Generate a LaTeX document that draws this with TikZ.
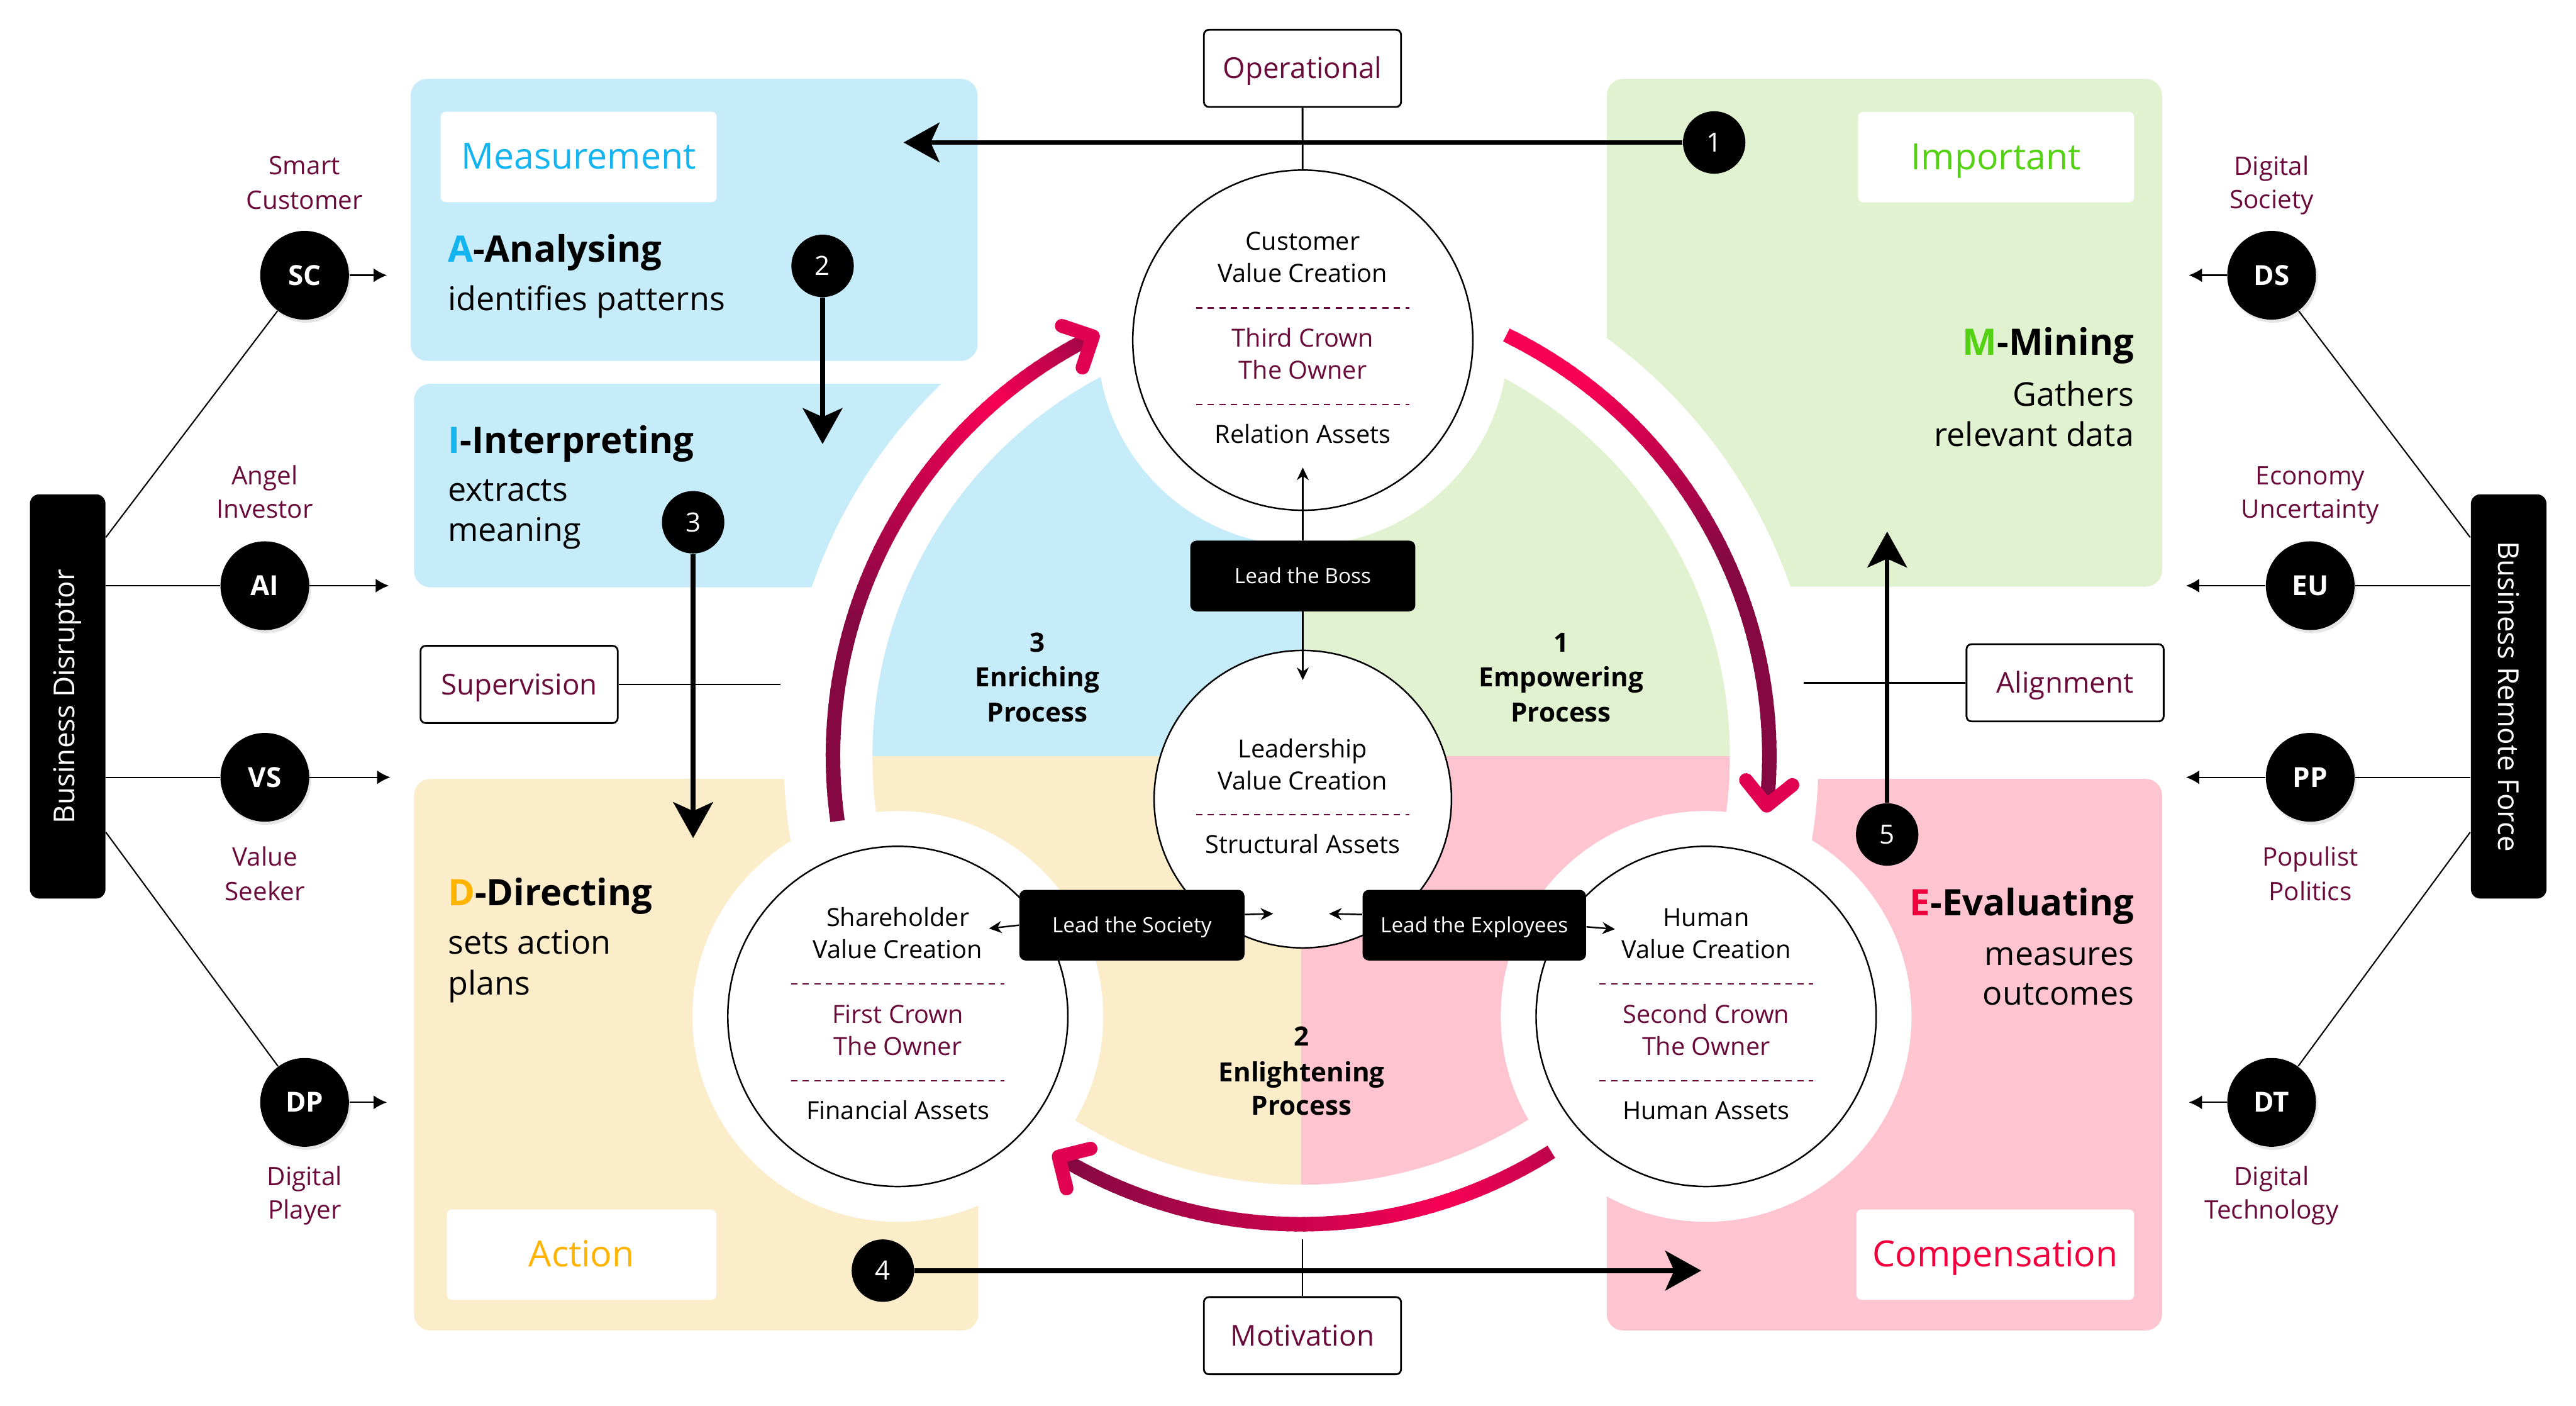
\documentclass[tikz,border=0pt]{standalone}
\usepackage{fontspec}
\setmainfont{Open Sans}
\usetikzlibrary{arrows.meta,calc,shadows}

\definecolor{skyfill}{HTML}{C6ECFA}
\definecolor{leaffill}{HTML}{E0F2CF}
\definecolor{sandfill}{HTML}{FCEDCA}
\definecolor{rosefill}{HTML}{FEC5D0}
\definecolor{skytext}{HTML}{14B4F0}
\definecolor{leaftext}{HTML}{55D114}
\definecolor{sandtext}{HTML}{FFB400}
\definecolor{rosetext}{HTML}{F0003C}
\definecolor{wine}{HTML}{6A0A3A}
\definecolor{ringdark}{HTML}{860843}
\definecolor{ringbright}{HTML}{F80054}

\newlength\pxu
\setlength\pxu{0.2612mm}

\tikzset{
  panel/.style={rounded corners=2.6mm},
  tagbox/.style={fill=white, rounded corners=0.8mm, inner sep=0pt, text height=11.9pt, text depth=0.8pt,
    minimum width=168*\pxu, minimum height=55*\pxu, font=\fontsize{16.3}{19}\selectfont},
  headtext/.style={inner sep=0pt, font=\fontsize{16.5}{19}\selectfont\bfseries},
  bodytext/.style={inner sep=0pt, font=\fontsize{14.8}{17}\selectfont},
  valuecircle/.style={circle, draw, fill=white, line width=0.7pt, minimum size=207*\pxu, inner sep=0pt},
  cvtext/.style={anchor=base, inner sep=0pt, font=\fontsize{11.3}{13.5}\selectfont},
  crown/.style={cvtext, text=wine},
  sepline/.style={wine, line width=0.7pt, dash pattern=on 1mm off 0.85mm},
  processtext/.style={anchor=base, inner sep=0pt, font=\fontsize{12}{14}\selectfont\bfseries},
  leadbox/.style={fill=black, rounded corners=1mm, text=white, inner sep=0pt, minimum width=137*\pxu,
    minimum height=43*\pxu, text height=7.1pt, text depth=0.5pt, font=\fontsize{9.5}{11}\selectfont},
  leadarrow/.style={line width=0.7pt, -{Stealth[length=2mm,width=1.9mm]}},
  labelbox/.style={draw, line width=0.8pt, fill=white, rounded corners=0.8mm, text=wine, inner sep=0pt,
    minimum width=120*\pxu, minimum height=47*\pxu, text height=9.8pt, text depth=0.65pt,
    font=\fontsize{13}{15}\selectfont},
  link/.style={line width=0.8pt},
  numdot/.style={circle, fill=black, text=white, inner sep=0pt, minimum size=38*\pxu,
    font=\fontsize{12}{14}\selectfont},
  numarrow/.style={line width=0.75mm, -{Stealth[length=5.7mm,width=6.3mm,inset=1.4mm]}},
  ring/.style={line width=2.3mm},
  chevron/.style={line width=2.2mm, line cap=round, line join=round, ringbright!80!ringdark},
  forcebox/.style={fill=black, rounded corners=1.5mm, text=white, inner sep=0pt, minimum width=246*\pxu,
    minimum height=46*\pxu, font=\fontsize{13}{15}\selectfont},
  actor/.style={circle, fill=black, text=white, inner sep=0pt, minimum size=54*\pxu,
    font=\fontsize{12.5}{14}\selectfont\bfseries,
    drop shadow={opacity=0.2, shadow xshift=0.3mm, shadow yshift=-0.5mm}},
  actortext/.style={anchor=base, inner sep=0pt, text=wine, font=\fontsize{11.5}{13}\selectfont},
  sideline/.style={line width=0.6pt},
  actorarrow/.style={line width=0.6pt, -{Latex[length=2.1mm,width=2.2mm]}},
}

\begin{document}
\begin{tikzpicture}[x=0.2612mm, y=-0.2612mm]
  \useasboundingbox (0,0) rectangle (1568,855.4);

  % Panels
  \fill[skyfill, panel] (250,48) rectangle (595,219.6);
  \fill[skyfill, panel] (252,233.5) rectangle (595,357.4);
  \fill[leaffill, panel] (978,48) rectangle (1316,357);
  \fill[sandfill, panel] (252,474) rectangle (595.5,809.6);
  \fill[rosefill, panel] (978,474) rectangle (1316,809.6);

  % Centre disk
  \begin{scope}
    \clip (792,460) circle (261);
    \fill[skyfill] (520,190) rectangle (792,460);
    \fill[leaffill] (792,190) rectangle (1064,460);
    \fill[sandfill] (520,460) rectangle (792,730);
    \fill[rosefill] (792,460) rectangle (1064,730);
  \end{scope}
  \fill[white, even odd rule] (792,460) circle (315) (792,460) circle (261);
  \fill[white] (793,207) circle (125) (546.5,618.5) circle (125) (1038.5,618.5) circle (125);

  % Ring arrows
  \foreach \i in {0,...,71} {
    \pgfmathsetmacro\ta{188-71.6*\i/72}
    \pgfmathsetmacro\tb{188-71.6*min(\i+1.4,72)/72}
    \pgfmathsetmacro\tt{(\i+0.5)/72}
    \pgfmathtruncatemacro\pp{100*max(0,min(1,min((\tt-0.35)/0.45,(1.05-\tt)/0.25)))}
    \draw[ring, ringbright!\pp!ringdark] ({792+285*cos(\ta)},{460-285*sin(\ta)})
      -- ({792+285*cos(\tb)},{460-285*sin(\tb)});
  }
  \foreach \i in {0,...,69} {
    \pgfmathsetmacro\ta{64-70.1*\i/70}
    \pgfmathsetmacro\tb{64-70.1*min(\i+1.4,70)/70}
    \pgfmathsetmacro\tt{(\i+0.5)/70}
    \pgfmathtruncatemacro\pp{100*max(0,min(1,(0.556-\tt)/0.39))}
    \draw[ring, ringbright!\pp!ringdark] ({792+285*cos(\ta)},{460-285*sin(\ta)})
      -- ({792+285*cos(\tb)},{460-285*sin(\tb)});
  }
  \foreach \i in {0,...,63} {
    \pgfmathsetmacro\ta{-57.7-63.5*\i/64}
    \pgfmathsetmacro\tb{-57.7-63.5*min(\i+1.4,64)/64}
    \pgfmathsetmacro\tt{(\i+0.5)/64}
    \pgfmathtruncatemacro\pp{100*max(0,min(0.5+0.5*\tt/0.22,1-(\tt-0.22)/0.75))}
    \draw[ring, ringbright!\pp!ringdark] ({792+285*cos(\ta)},{460-285*sin(\ta)})
      -- ({792+285*cos(\tb)},{460-285*sin(\tb)});
  }
  \draw[chevron] (646.3,198.3) -- (665.3,204.7) -- (658.9,223.7);
  \draw[chevron] (1062.8,474.7) -- (1075.4,490.3) -- (1091.0,477.7);
  \draw[chevron] (663.8,699.0) -- (644.4,703.8) -- (649.2,723.2);

  % Value circles
  \node[valuecircle] (cvc) at (793,207) {};
  \node[valuecircle] (svc) at (546.5,618.5) {};
  \node[valuecircle] (hvc) at (1038.5,618.5) {};
  \node[valuecircle, minimum size=181*\pxu] (lvc) at (793,486.3) {};

  \node[cvtext] (cvc-1) at (793,152) {Customer};
  \node[cvtext] (cvc-2) at (793,171.6) {Value Creation};
  \draw[sepline] (728,187.3) -- (858,187.3);
  \node[crown] (cvc-3) at (793,211.2) {Third Crown};
  \node[crown] (cvc-4) at (793,230.7) {The Owner};
  \draw[sepline] (728,246.1) -- (858,246.1);
  \node[cvtext] (cvc-5) at (793,269.8) {Relation Assets};

  \node[cvtext] (svc-1) at (546.5,563.5) {Shareholder};
  \node[cvtext] (svc-2) at (546.5,583.1) {Value Creation};
  \draw[sepline] (481.5,598.8) -- (611.5,598.8);
  \node[crown] (svc-3) at (546.5,622.7) {First Crown};
  \node[crown] (svc-4) at (546.5,642.2) {The Owner};
  \draw[sepline] (481.5,657.6) -- (611.5,657.6);
  \node[cvtext] (svc-5) at (546.5,681.3) {Financial Assets};

  \node[cvtext] (hvc-1) at (1038.5,563.5) {Human};
  \node[cvtext] (hvc-2) at (1038.5,583.1) {Value Creation};
  \draw[sepline] (973.5,598.8) -- (1103.5,598.8);
  \node[crown] (hvc-3) at (1038.5,622.7) {Second Crown};
  \node[crown] (hvc-4) at (1038.5,642.2) {The Owner};
  \draw[sepline] (973.5,657.6) -- (1103.5,657.6);
  \node[cvtext] (hvc-5) at (1038.5,681.3) {Human Assets};

  \node[cvtext] (lvc-1) at (793,461) {Leadership};
  \node[cvtext] (lvc-2) at (793,480.5) {Value Creation};
  \draw[sepline] (728,495.8) -- (858,495.8);
  \node[cvtext] (lvc-3) at (793,519.4) {Structural Assets};

  % Processes
  \node[processtext] (enr-1) at (631.4,396.7) {3};
  \node[processtext] (enr-2) at (631.4,418) {Enriching};
  \node[processtext] (enr-3) at (631.4,439.1) {Process};
  \node[processtext] (emp-1) at (950.2,396.7) {1};
  \node[processtext] (emp-2) at (950.2,418) {Empowering};
  \node[processtext] (emp-3) at (950.2,439.1) {Process};
  \node[processtext] (enl-1) at (792.3,636.6) {2};
  \node[processtext] (enl-2) at (792.3,658.2) {Enlightening};
  \node[processtext] (enl-3) at (792.3,678.7) {Process};

  % Lead boxes
  \node[leadbox] (boss) at (793,350.5) {Lead the Boss};
  \node[leadbox] (soc) at (689,563) {Lead the Society};
  \node[leadbox, minimum width=136*\pxu] (empl) at (897.4,563) {Lead the Exployees};
  \coordinate (boss-up) at (793,284.5);
  \coordinate (boss-dn) at (793,413.8);
  \draw[leadarrow] (boss) -- (boss-up);
  \draw[leadarrow] (boss) -- (boss-dn);
  \coordinate (soc-l) at (602,565);
  \coordinate (soc-r) at (775,556);
  \draw[leadarrow] (soc.west) -- (soc-l);
  \draw[leadarrow] ($(soc.east)+(0,-6.5)$) -- (soc-r);
  \coordinate (empl-l) at (809,556);
  \coordinate (empl-r) at (983,565.4);
  \draw[leadarrow] ($(empl.west)+(0,-6.5)$) -- (empl-l);
  \draw[leadarrow] ($(empl.east)+(0,1)$) -- (empl-r);

  % Label boxes
  \node[labelbox] (op) at (792.8,41.6) {Operational};
  \node[labelbox] (mo) at (792.8,812.8) {Motivation};
  \node[labelbox] (sup) at (316,416.5) {Supervision};
  \node[labelbox] (ali) at (1257,415.5) {Alignment};
  \coordinate (mo-end) at (792.8,754);
  \coordinate (sup-end) at (475,416.5);
  \coordinate (ali-end) at (1098,415.5);
  \draw[link] (op) -- (cvc);
  \draw[link] (mo-end) -- (mo);
  \draw[link] (sup) -- (sup-end);
  \draw[link] (ali-end) -- (ali);

  % Panel texts
  \node[tagbox, text=skytext] (meas) at (352.2,95.5) {Measurement};
  \node[headtext, anchor=base west] (a-head) at (272.4,159.6) {{\color{skytext}A}-Analysing};
  \node[bodytext, anchor=base west] (a-body) at (272.4,188.8) {identifies patterns};
  \node[headtext, anchor=base west] (i-head) at (272.4,275.7) {{\color{skytext}I}-Interpreting};
  \node[bodytext, anchor=base west] (i-body1) at (272.4,304.9) {extracts};
  \node[bodytext, anchor=base west] (i-body2) at (272.4,329.5) {meaning};
  \node[tagbox, text=leaftext] (imp) at (1215,95.6) {Important};
  \node[headtext, anchor=base east] (m-head) at (1299.2,216.1) {{\color{leaftext}M}-Mining};
  \node[bodytext, anchor=base east] (m-body1) at (1299.2,247.1) {Gathers};
  \node[bodytext, anchor=base east] (m-body2) at (1299.2,271.5) {relevant data};
  \node[headtext, anchor=base west] (d-head) at (272.4,551) {{\color{sandtext}D}-Directing};
  \node[bodytext, anchor=base west] (d-body1) at (272.4,580.5) {sets action};
  \node[bodytext, anchor=base west] (d-body2) at (272.4,605.5) {plans};
  \node[tagbox, text=sandtext, minimum width=164*\pxu] (act) at (354,763.5) {Action};
  \node[headtext, anchor=base east] (e-head) at (1299.2,557) {{\color{rosetext}E}-Evaluating};
  \node[bodytext, anchor=base east] (e-body1) at (1299.2,587.5) {measures};
  \node[bodytext, anchor=base east] (e-body2) at (1299.2,611.5) {outcomes};
  \node[tagbox, text=rosetext, minimum width=169*\pxu] (comp) at (1214.5,763.5) {Compensation};

  % Numbered flow
  \node[numdot] (n1) at (1043.4,86.7) {1};
  \node[numdot] (n2) at (500.7,161.8) {2};
  \node[numdot] (n3) at (421.9,317.8) {3};
  \node[numdot] (n4) at (537.4,773.2) {4};
  \node[numdot] (n5) at (1148.7,507.8) {5};
  \coordinate (t1) at (550,86.7);
  \coordinate (t2) at (500.7,270.2);
  \coordinate (t3) at (421.9,510);
  \coordinate (t4) at (1035.5,773.2);
  \coordinate (t5) at (1148.7,323.5);
  \draw[numarrow] (n1) -- (t1);
  \draw[numarrow] (n2) -- (t2);
  \draw[numarrow] (n3) -- (t3);
  \draw[numarrow] (n4) -- (t4);
  \draw[numarrow] (n5) -- (t5);

  % Left forces
  \node[forcebox, rotate=90] (bd) at (41.2,423.8) {Business Disruptor};
  \node[actor] (sc) at (185.4,167.5) {SC};
  \node[actor] (ai) at (161.2,356.4) {AI};
  \node[actor] (vs) at (161.2,473) {VS};
  \node[actor] (dp) at (185.4,670.8) {DP};
  \coordinate (bd-sc) at (64.4,327);
  \coordinate (bd-dp) at (64.4,506.4);
  \draw[sideline] (bd-sc) -- (sc);
  \draw[sideline] (bd.south |- ai) -- (ai);
  \draw[sideline] (bd.south |- vs) -- (vs);
  \draw[sideline] (bd-dp) -- (dp);
  \coordinate (sc-tip) at (235.5,167.5);
  \coordinate (ai-tip) at (236.7,356.4);
  \coordinate (vs-tip) at (237.6,473);
  \coordinate (dp-tip) at (235.5,670.8);
  \draw[actorarrow] (sc) -- (sc-tip);
  \draw[actorarrow] (ai) -- (ai-tip);
  \draw[actorarrow] (vs) -- (vs-tip);
  \draw[actorarrow] (dp) -- (dp-tip);
  \node[actortext] (sc-a) at (185.4,106.4) {Smart};
  \node[actortext] (sc-b) at (185.4,127.1) {Customer};
  \node[actortext] (ai-a) at (161.2,295) {Angel};
  \node[actortext] (ai-b) at (161.2,315.2) {Investor};
  \node[actortext] (vs-a) at (161.2,527.1) {Value};
  \node[actortext] (vs-b) at (161.2,547.8) {Seeker};
  \node[actortext] (dp-a) at (185.4,721.4) {Digital};
  \node[actortext] (dp-b) at (185.4,741.5) {Player};

  % Right forces
  \node[forcebox, rotate=-90] (brf) at (1527,423.8) {Business Remote Force};
  \node[actor] (ds) at (1382.7,167.5) {DS};
  \node[actor] (eu) at (1406.2,356.4) {EU};
  \node[actor] (pp) at (1406.2,473) {PP};
  \node[actor] (dt) at (1382.7,670.8) {DT};
  \coordinate (brf-ds) at (1503.6,327);
  \coordinate (brf-dt) at (1503.6,506.4);
  \draw[sideline] (brf-ds) -- (ds);
  \draw[sideline] (brf.south |- eu) -- (eu);
  \draw[sideline] (brf.south |- pp) -- (pp);
  \draw[sideline] (brf-dt) -- (dt);
  \coordinate (ds-tip) at (1332.3,167.5);
  \coordinate (eu-tip) at (1330.6,356.4);
  \coordinate (pp-tip) at (1330.6,473);
  \coordinate (dt-tip) at (1332.3,670.8);
  \draw[actorarrow] (ds) -- (ds-tip);
  \draw[actorarrow] (eu) -- (eu-tip);
  \draw[actorarrow] (pp) -- (pp-tip);
  \draw[actorarrow] (dt) -- (dt-tip);
  \node[actortext] (ds-a) at (1382.7,106.6) {Digital};
  \node[actortext] (ds-b) at (1382.7,127) {Society};
  \node[actortext] (eu-a) at (1406.2,295) {Economy};
  \node[actortext] (eu-b) at (1406.2,315.2) {Uncertainty};
  \node[actortext] (pp-a) at (1406.2,527.1) {Populist};
  \node[actortext] (pp-b) at (1406.2,547.8) {Politics};
  \node[actortext] (dt-a) at (1382.7,721.4) {Digital};
  \node[actortext] (dt-b) at (1382.7,741.5) {Technology};
\end{tikzpicture}
\end{document}
